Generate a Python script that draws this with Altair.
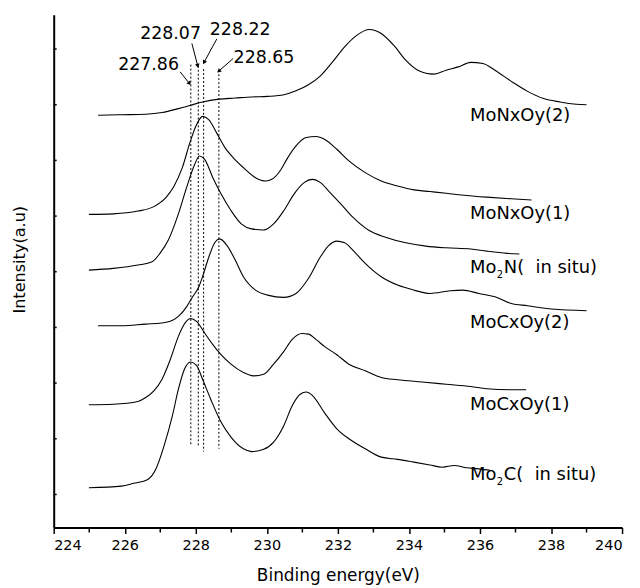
import math
import altair as alt
import pandas as pd

FONT = "DejaVu Sans"

# ---------------- data ----------------
monxoy2_x = [225.25, 225.91, 226.59, 227.05, 227.51, 227.85, 228.19, 228.65, 229.11, 229.57, 230.02, 230.48, 230.82, 231.17, 231.51, 231.85, 232.19, 232.54, 232.88, 233.22, 233.57, 233.91, 234.25, 234.71, 235.05, 235.39, 235.74, 236.08, 236.42, 236.88, 237.34, 237.79, 238.25, 238.71, 239.0]
monxoy2_y = [6.81, 6.82, 6.83, 6.86, 6.93, 6.99, 7.05, 7.10, 7.12, 7.14, 7.15, 7.18, 7.25, 7.36, 7.52, 7.77, 8.04, 8.25, 8.35, 8.28, 8.07, 7.80, 7.62, 7.55, 7.62, 7.68, 7.76, 7.74, 7.62, 7.42, 7.24, 7.11, 7.05, 7.01, 7.00]

monxoy1_x = [224.99, 225.68, 226.37, 226.82, 227.17, 227.39, 227.62, 227.85, 228.02, 228.19, 228.37, 228.59, 228.82, 229.05, 229.34, 229.68, 229.97, 230.14, 230.37, 230.59, 230.82, 231.11, 231.39, 231.62, 231.97, 232.31, 232.77, 233.22, 233.68, 234.14, 234.59, 235.05, 235.62, 236.19, 236.88, 237.45]
monxoy1_y = [5.03, 5.04, 5.09, 5.17, 5.34, 5.54, 5.87, 6.35, 6.64, 6.79, 6.73, 6.49, 6.23, 6.05, 5.87, 5.69, 5.63, 5.66, 5.81, 6.05, 6.26, 6.41, 6.43, 6.38, 6.20, 5.99, 5.78, 5.63, 5.54, 5.47, 5.44, 5.41, 5.37, 5.34, 5.31, 5.29]

mo2n_x = [224.99, 225.68, 226.37, 226.77, 226.99, 227.22, 227.51, 227.74, 227.97, 228.10, 228.25, 228.48, 228.71, 228.99, 229.28, 229.57, 229.91, 230.19, 230.48, 230.77, 231.05, 231.28, 231.51, 231.74, 232.08, 232.42, 232.88, 233.34, 233.91, 234.48, 235.05, 235.74, 236.19, 236.77, 237.11]
mo2n_y = [4.03, 4.06, 4.12, 4.18, 4.33, 4.56, 5.04, 5.51, 5.93, 6.08, 6.02, 5.69, 5.40, 5.10, 4.86, 4.77, 4.75, 4.86, 5.10, 5.40, 5.60, 5.66, 5.60, 5.45, 5.22, 4.98, 4.74, 4.62, 4.52, 4.46, 4.43, 4.41, 4.37, 4.33, 4.32]

mocxoy2_x = [225.25, 225.91, 226.59, 227.05, 227.28, 227.51, 227.74, 227.91, 228.08, 228.19, 228.37, 228.54, 228.67, 228.88, 229.11, 229.34, 229.68, 230.02, 230.48, 230.82, 231.17, 231.51, 231.74, 231.97, 232.19, 232.42, 232.77, 233.22, 233.68, 234.14, 234.59, 235.17, 235.51, 235.97, 236.42, 236.88, 237.34, 238.02, 239.0]
mocxoy2_y = [3.03, 3.03, 3.06, 3.08, 3.11, 3.20, 3.37, 3.55, 3.72, 3.91, 4.27, 4.53, 4.59, 4.47, 4.21, 3.91, 3.67, 3.58, 3.54, 3.61, 3.88, 4.27, 4.47, 4.55, 4.52, 4.39, 4.15, 3.91, 3.76, 3.67, 3.61, 3.66, 3.67, 3.61, 3.55, 3.43, 3.39, 3.33, 3.30]

mocxoy1_x = [224.99, 225.68, 226.37, 226.59, 226.82, 227.05, 227.28, 227.51, 227.71, 227.85, 228.02, 228.25, 228.48, 228.71, 228.99, 229.34, 229.62, 229.91, 230.19, 230.48, 230.71, 230.99, 231.17, 231.39, 231.62, 231.97, 232.31, 232.77, 233.22, 233.68, 234.37, 235.05, 235.74, 236.19, 236.88, 237.30]
mocxoy1_y = [1.61, 1.62, 1.67, 1.74, 1.86, 2.07, 2.42, 2.84, 3.09, 3.16, 3.11, 2.90, 2.69, 2.51, 2.34, 2.19, 2.13, 2.16, 2.34, 2.57, 2.78, 2.89, 2.88, 2.78, 2.66, 2.51, 2.34, 2.22, 2.10, 2.06, 2.02, 1.98, 1.94, 1.90, 1.88, 1.88]

mo2c_x = [224.99, 225.91, 226.25, 226.65, 226.88, 227.11, 227.34, 227.51, 227.68, 227.85, 228.02, 228.19, 228.42, 228.71, 228.99, 229.34, 229.57, 229.91, 230.19, 230.48, 230.71, 230.94, 231.11, 231.28, 231.62, 231.97, 232.31, 232.77, 233.22, 233.68, 234.14, 234.59, 234.94, 235.28, 235.62, 235.97, 236.31]
mo2c_y = [0.12, 0.15, 0.20, 0.27, 0.46, 0.88, 1.41, 1.89, 2.25, 2.38, 2.32, 2.07, 1.71, 1.30, 1.03, 0.82, 0.77, 0.81, 0.94, 1.24, 1.59, 1.80, 1.84, 1.78, 1.47, 1.18, 1.00, 0.82, 0.67, 0.63, 0.58, 0.53, 0.49, 0.52, 0.48, 0.46, 0.43]

series_names = ["MoNxOy(2)", "MoNxOy(1)", "Mo2N(in situ)", "MoCxOy(2)", "MoCxOy(1)", "Mo2C(in situ)"]
series_x = [monxoy2_x, monxoy1_x, mo2n_x, mocxoy2_x, mocxoy1_x, mo2c_x]
series_y = [monxoy2_y, monxoy1_y, mo2n_y, mocxoy2_y, mocxoy1_y, mo2c_y]

# dashed reference lines
ref_x = [227.86, 228.07, 228.22, 228.65]
ref_top = [7.72, 7.70, 7.64, 7.62]
ref_bottom = [0.90, 0.86, 0.77, 0.82]
ref_text = ["227.86", "228.07", "228.22", "228.65"]
ref_label_x = [226.67, 227.29, 229.25, 229.92]
ref_label_y = [7.72, 8.27, 8.34, 7.83]
arrow_x1 = [227.56, 227.89, 228.59, 229.05]
arrow_y1 = [7.59, 8.10, 8.18, 7.83]
arrow_x2 = [227.81, 228.05, 228.24, 228.66]
arrow_y2 = [7.39, 7.71, 7.77, 7.61]

# curve labels
label_x = [235.72, 235.72, 235.72, 235.72, 235.72, 235.72]
label_y = [6.79, 5.04, 4.06, 3.08, 1.60, 0.34]
label_head = ["MoNxOy(2)", "MoNxOy(1)", "Mo", "MoCxOy(2)", "MoCxOy(1)", "Mo"]
label_sub = ["", "", "2", "", "", "2"]
label_tail = ["", "", "N(\u00a0\u00a0in situ)", "", "", "C(\u00a0\u00a0in situ)"]

x_major = [224, 226, 228, 230, 232, 234, 236, 238, 240]
x_minor = [225, 227, 229, 231, 233, 235, 237, 239]
y_ticks = [0, 1, 2, 3, 4, 5, 6, 7, 8]

X_DOMAIN = [224, 240]
Y_DOMAIN = [-0.594, 8.615]
W, H = 572, 516

# ---------------- tables ----------------
rows = []
for name, xs_, ys_ in zip(series_names, series_x, series_y):
    for i, (xv, yv) in enumerate(zip(xs_, ys_)):
        rows.append({"series": name, "order": i, "x": xv, "y": yv})
curves = pd.DataFrame(rows)

refs = pd.DataFrame({"x": ref_x, "top": ref_top, "bottom": ref_bottom})
ref_labels = pd.DataFrame({"x": ref_label_x, "y": ref_label_y, "text": ref_text})

px_x = W / (X_DOMAIN[1] - X_DOMAIN[0])
px_y = H / (Y_DOMAIN[1] - Y_DOMAIN[0])
angles = []
for a, b, c, d in zip(arrow_x1, arrow_y1, arrow_x2, arrow_y2):
    dx = (c - a) * px_x
    dy_down = -(d - b) * px_y
    angles.append(math.degrees(math.atan2(dx, -dy_down)) % 360)
arrows = pd.DataFrame({"x1": arrow_x1, "y1": arrow_y1, "x2": arrow_x2, "y2": arrow_y2, "ang": angles})

labels = pd.DataFrame({"x": label_x, "y": label_y, "head": label_head, "sub": label_sub, "tail": label_tail})

xs = alt.Scale(domain=X_DOMAIN, nice=False, zero=False)
ys = alt.Scale(domain=Y_DOMAIN, nice=False, zero=False)

X_AXIS = alt.Axis(
    values=x_major, format="d", title="Binding energy(eV)", grid=False,
    tickSize=6, tickWidth=1.5, tickColor="black", domainColor="black", domainWidth=2,
    labelFont=FONT, labelFontSize=14.5, labelColor="black", labelPadding=5,
    titleFont=FONT, titleFontSize=17, titleFontWeight="normal", titleColor="black",
    titleBaseline="middle", titleY=48)
Y_AXIS = alt.Axis(
    title="Intensity(a.u)", labels=False, ticks=False, grid=False,
    domainColor="black", domainWidth=2,
    titleFont=FONT, titleFontSize=16.2, titleFontWeight="normal", titleColor="black",
    titleAngle=270, titleAlign="center", titleBaseline="middle", titleX=-34, titleY=246)


def X(field):
    return alt.X(field, scale=xs, axis=X_AXIS, title="Binding energy(eV)")


def Y(field):
    return alt.Y(field, scale=ys, axis=Y_AXIS, title="Intensity(a.u)")


# ---------------- layers ----------------
lines = alt.Chart(curves).mark_line(color="black", strokeWidth=1.1, interpolate="monotone").encode(
    x=X("x:Q"), y=Y("y:Q"), detail="series:N", order="order:Q",
)

dashes = alt.Chart(refs).mark_rule(color="black", strokeWidth=1, strokeDash=[2, 2]).encode(
    x=X("x:Q"), y=Y("top:Q"), y2="bottom:Q",
)

arrow_lines = alt.Chart(arrows).mark_rule(color="black", strokeWidth=1).encode(
    x=X("x1:Q"), y=Y("y1:Q"), x2="x2:Q", y2="y2:Q",
)

arrow_heads = alt.Chart(arrows).mark_point(shape="triangle", filled=True, color="black", size=22, opacity=1).encode(
    x=X("x2:Q"), y=Y("y2:Q"), angle=alt.Angle("ang:Q", scale=None),
)

ref_text_layer = alt.Chart(ref_labels).mark_text(font=FONT, fontSize=17.5, color="black", align="center", baseline="middle").encode(
    x=X("x:Q"), y=Y("y:Q"), text="text:N",
)

head_layer = alt.Chart(labels).mark_text(font=FONT, fontSize=18, color="black", align="left", baseline="middle").encode(
    x=X("x:Q"), y=Y("y:Q"), text="head:N",
)
sub_layer = alt.Chart(labels).mark_text(font=FONT, fontSize=10, color="black", align="left", baseline="middle", dx=27, dy=7).encode(
    x=X("x:Q"), y=Y("y:Q"), text="sub:N",
)
tail_layer = alt.Chart(labels).mark_text(font=FONT, fontSize=18, color="black", align="left", baseline="middle", dx=34).encode(
    x=X("x:Q"), y=Y("y:Q"), text="tail:N",
)

ytick_layer = alt.Chart(pd.DataFrame({"y": y_ticks})).mark_rule(color="black", strokeWidth=1.5).encode(
    y=Y("y:Q"), x=alt.value(0), x2=alt.value(3),
)

xminor_layer = alt.Chart(pd.DataFrame({"x": x_minor})).mark_rule(color="black", strokeWidth=1.5, clip=False).encode(
    x=X("x:Q"), y=alt.value(H), y2=alt.value(H + 5),
)

chart = alt.layer(
    lines, dashes, arrow_lines, arrow_heads, ref_text_layer,
    head_layer, sub_layer, tail_layer, ytick_layer, xminor_layer,
).properties(
    width=W, height=H,
    autosize=alt.AutoSizeParams(type="none"),
    padding={"left": 46, "top": 5, "right": 10, "bottom": 58},
    background="white",
).configure_view(stroke=None)

chart.save("out.html", embed_options={"renderer": "svg", "actions": False})
